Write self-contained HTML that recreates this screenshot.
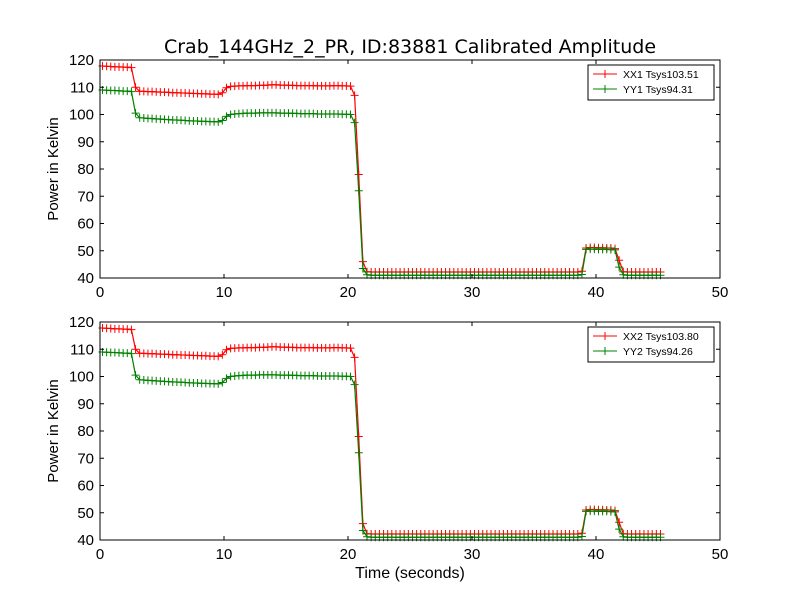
<!DOCTYPE html>
<html><head><meta charset="utf-8"><style>
html,body{margin:0;padding:0;background:#fff;}
svg{display:block;font-family:"Liberation Sans","DejaVu Sans",sans-serif;}
</style></head><body>
<svg id="chart" width="800" height="600" viewBox="0 0 800 600" xmlns="http://www.w3.org/2000/svg">
<rect x="0" y="0" width="800" height="600" fill="#fff"/>
<text x="410" y="53" font-size="19" font-family="DejaVu Sans, sans-serif" text-anchor="middle">Crab_144GHz_2_PR, ID:83881 Calibrated Amplitude</text>
<g id="p1"></g>
<g id="p2"></g>
<text x="410" y="578" font-size="16" text-anchor="middle">Time (seconds)</text>
</svg>
<script>
const xTicks=[0,10,20,30,40,50];
const yTicks=[40,50,60,70,80,90,100,110,120];
const tStart=0.2, tStep=1/3;
const xx1=[117.8,117.7,117.6,117.5,117.5,117.4,117.4,117.2,110,
108.5,108.5,108.4,108.4,108.3,108.2,108.2,108.1,108.0,108.0,107.9,107.9,107.8,107.7,107.7,107.6,107.6,107.5,107.5,107.4,108.0,
109.8,
110.3,110.4,110.5,110.5,110.6,110.6,110.6,110.7,110.7,110.8,110.9,110.9,110.8,110.8,110.7,110.7,110.6,110.6,110.6,110.6,110.6,110.5,110.5,110.5,110.5,110.6,110.6,110.5,110.5,110.4,
107,78,46,42.3,
42.2,42.2,42.2,42.2,42.2,42.2,42.2,42.2,42.2,42.2,42.2,42.2,42.2,42.2,42.2,42.2,42.2,42.2,42.2,42.2,42.2,42.2,42.2,42.2,42.2,42.2,
42.2,42.2,42.2,42.2,42.2,42.2,42.2,42.2,42.2,42.2,42.2,42.2,42.2,42.2,42.2,42.2,42.2,42.2,42.2,42.2,42.2,42.2,42.2,42.2,42.2,42.5,
51,51.2,51.2,51.1,51.1,51,51,50.8,
46.5,42.3,42.2,42.2,42.2,42.2,42.2,42.2,42.2,42.2,42.2];
const yy1=[109,108.9,108.8,108.8,108.7,108.6,108.6,108.4,100.5,
98.8,98.7,98.6,98.5,98.4,98.3,98.2,98.1,98.0,98.0,97.9,97.8,97.7,97.6,97.6,97.5,97.5,97.4,97.4,97.3,97.8,
99.3,
100.0,100.2,100.3,100.4,100.5,100.5,100.5,100.6,100.6,100.6,100.6,100.6,100.5,100.5,100.5,100.4,100.4,100.3,100.3,100.3,100.3,100.2,100.2,100.2,100.2,100.2,100.2,100.1,100.1,100.0,
97,72,43.5,41.2,
41,41,41,41,41,41,41,41,41,41,41,41,41,41,41,41,41,41,41,41,41,41,41,41,41,41,
41,41,41,41,41,41,41,41,41,41,41,41,41,41,41,41,41,41,41,41,41,41,41,41,41,41.3,
50.5,50.6,50.6,50.5,50.5,50.5,50.4,50.3,
44,41.2,41,41,41,41,41,41,41,41,41];
const xx2=xx1.slice();
const yy2=yy1.slice();
const legend1=["XX1 Tsys103.51","YY1 Tsys94.31"];
const legend2=["XX2 Tsys103.80","YY2 Tsys94.26"];

const NS="http://www.w3.org/2000/svg";
function mk(tag,attrs,parent){const e=document.createElementNS(NS,tag);for(const k in attrs)e.setAttribute(k,attrs[k]);parent.appendChild(e);return e;}
const X0=100,X1=720;
function xs(v){return X0+(v-0)/(50-0)*(X1-X0);}

function panel(g,top,bot,s1,s2,leg,legTop){
  const ys=v=>bot-(v-40)/(120-40)*(bot-top);
  [[s1,"#ff0000","xx"],[s2,"#008000","yy"]].forEach(([arr,col,nm])=>{
    const pts=arr.map((v,i)=>xs(tStart+i*tStep).toFixed(1)+","+ys(v).toFixed(1)).join(" ");
    const pl=mk("polyline",{points:pts,fill:"none",stroke:col,"stroke-width":1.2},g);
    
    
    arr.forEach((v,i)=>{
      const x=xs(tStart+i*tStep),y=ys(v);
      const m=mk("path",{d:`M${x-4},${y}H${x+4}M${x},${y-4}V${y+4}`,stroke:col,"stroke-width":1},g);
      
      
    });
  });
  const f=mk("rect",{x:X0,y:top,width:X1-X0,height:bot-top,fill:"none",stroke:"#000","stroke-width":1},g);
  
  
  xTicks.forEach(t=>{
    const x=xs(t);
    mk("path",{d:`M${x},${bot}v-4M${x},${top}v4`,stroke:"#000"},g);
    const tx=mk("text",{x:x,y:bot+19,"font-size":15,"text-anchor":"middle"},g);
    tx.textContent=t;
    
    
  });
  yTicks.forEach(t=>{
    const y=ys(t);
    mk("path",{d:`M${X0},${y}h4M${X1},${y}h-4`,stroke:"#000"},g);
    const tx=mk("text",{x:X0-6,y:y+5,"font-size":15,"text-anchor":"end"},g);
    tx.textContent=t;
    
    
  });
  const yl=mk("text",{x:0,y:0,"font-size":15,"text-anchor":"middle",transform:`translate(58,${(top+bot)/2}) rotate(-90)`},g);
  yl.textContent="Power in Kelvin";
  
  
  const lg=mk("g",{},g);
  
  
  mk("rect",{x:588,y:legTop,width:126,height:35,fill:"#fff",stroke:"#000","stroke-width":1},lg);
  [["#ff0000",0],["#008000",1]].forEach(([col,i])=>{
    const y=legTop+9+i*15;
    const e=mk("g",{},lg);
    
    
    mk("path",{d:`M593,${y}h24M605,${y-4}v8M601,${y}h8`,stroke:col,"stroke-width":1},e);
    const t=mk("text",{x:623,y:y+4,"font-size":10.5},e);
    t.textContent=leg[i];
  });
}
panel(document.getElementById("p1"),60,278,xx1,yy1,legend1,65);
panel(document.getElementById("p2"),322,540,xx2,yy2,legend2,327);
</script>
</body></html>
